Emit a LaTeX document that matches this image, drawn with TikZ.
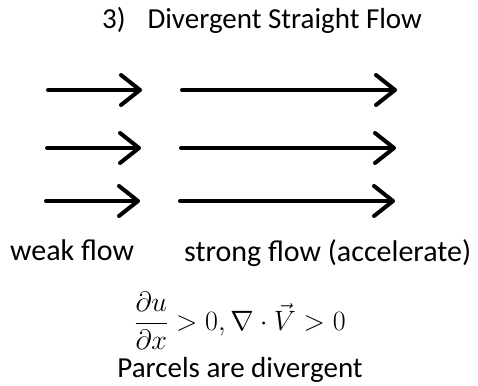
\RequirePackage{fix-cm}
\documentclass[tikz,border=0pt]{standalone}
\usepackage{amsmath,amssymb}
\usepackage{fontspec}
\setmainfont{Carlito}
\usepackage{tikz}
\usetikzlibrary{arrows.meta}

\begin{document}
\begin{tikzpicture}[
  x=1pt, y=-1pt,
  flow/.style={line width=4pt, line cap=round,
               -{Straight Barb[length=19pt, width=30pt, round]}},
  lbl/.style={anchor=base west, inner sep=0pt, font=\fontsize{30}{35}\selectfont},
  ctr/.style={anchor=base, inner sep=0pt, font=\fontsize{29}{34}\selectfont},
]
\useasboundingbox (0,0) rectangle (478,385);

% ---- title ----
\node[ctr] (title) at (262,29) {3)\hspace{22pt}Divergent Straight Flow};

% ---- weak flow (left) ----
\coordinate (w1s) at (48,90);  \coordinate (w1e) at (142,90);
\coordinate (w2s) at (47,148); \coordinate (w2e) at (141,148);
\coordinate (w3s) at (46,201); \coordinate (w3e) at (140,201);

% ---- strong flow (right) ----
\coordinate (s1s) at (182,90);  \coordinate (s1e) at (397,90);
\coordinate (s2s) at (181,148); \coordinate (s2e) at (396,148);
\coordinate (s3s) at (180,201); \coordinate (s3e) at (395,201);

% ---- arrows ----
\draw[flow] (w1s) -- (w1e);
\draw[flow] (w2s) -- (w2e);
\draw[flow] (w3s) -- (w3e);
\draw[flow] (s1s) -- (s1e);
\draw[flow] (s2s) -- (s2e);
\draw[flow] (s3s) -- (s3e);

% ---- labels ----
\node[lbl] (weak)   at (10,260)  {weak flow};
\node[lbl] (strong) at (184,261) {strong flow (accelerate)};

% ---- divergence ----
\node[inner sep=0pt, font=\fontsize{28}{34}\selectfont] (div) at (240,321)
  {$\dfrac{\partial u}{\partial x} > 0, \nabla\cdot\vec{V} > 0$};
\node[ctr] (parcels) at (240,377) {Parcels are divergent};

\end{tikzpicture}
\end{document}
